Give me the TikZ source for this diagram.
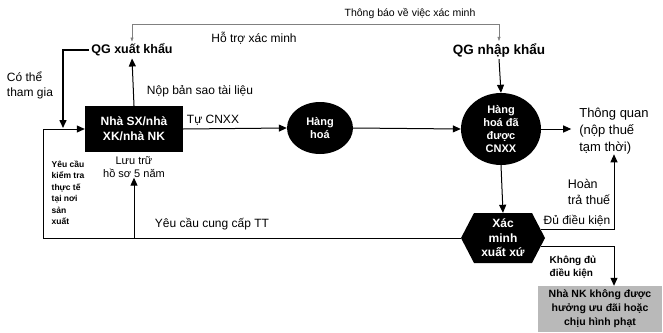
\documentclass[tikz,border=0pt]{standalone}
\usepackage{fontspec}
\setmainfont{Liberation Sans}
\usetikzlibrary{shapes.geometric,shapes.symbols,arrows.meta,calc}
\begin{document}
\begin{tikzpicture}[x=1pt,y=-1pt,
  lbl/.style={font=\fontsize{12}{15}\selectfont, inner sep=0pt},
  blk/.style={fill=black, text=white, font=\bfseries\fontsize{11}{13}\selectfont, align=center, inner sep=0pt},
  arr/.style={-{Triangle[length=8pt,width=7pt]}, line width=1pt},
  thinarr/.style={{Triangle[length=4pt,width=3pt]}-{Triangle[length=4pt,width=3pt]}, line width=0.5pt, draw=gray}
]
\useasboundingbox (0,0) rectangle (663,332);

% nodes
\node[font=\bfseries\fontsize{12.5}{15}\selectfont, inner sep=2pt] (qgxk) at (132,50) {QG xuất khẩu};
\node[font=\bfseries\fontsize{13.5}{15}\selectfont, inner sep=2pt] (qgnk) at (499,50) {QG nhập khẩu};
\node[blk, rectangle, minimum width=98, minimum height=46, font=\bfseries\fontsize{12}{15}\selectfont] (box) at (134,129) {Nhà SX/nhà\\XK/nhà NK};
\node[blk, ellipse, minimum width=66, minimum height=52] (hh) at (320,128) {Hàng\\hoá};
\node[blk, ellipse, minimum width=80, minimum height=72] (hhcn) at (501,129) {Hàng\\hoá đã\\được\\CNXX};
\node[blk, signal, signal to=east and west, signal pointer angle=125, minimum width=84, minimum height=50, font=\bfseries\fontsize{12}{14.5}\selectfont] (hex) at (503,238) {Xác\\minh\\xuất xứ};
\node[lbl, align=left, font=\fontsize{13}{17}\selectfont] (tq) at (614,131) {Thông quan\\(nộp thuế\\tạm thời)};
\node[rectangle, fill=gray!55, minimum width=124, minimum height=46, align=center, inner sep=0pt, font=\bfseries\fontsize{10.5}{14}\selectfont] (nk) at (600,309) {Nhà NK không được\\hưởng ưu đãi hoặc\\chịu hình phạt};

% labels
\node[lbl, font=\fontsize{10.5}{13}\selectfont] (l1) at (410,14) {Thông báo về việc xác minh};
\node[lbl] (l2) at (254,38) {Hỗ trợ xác minh};
\node[lbl, align=left] (l3) at (30,85) {Có thể\\tham gia};
\node[lbl] (l4) at (200,91) {Nộp bản sao tài liệu};
\node[lbl] (l5) at (213,120) {Tự CNXX};
\node[lbl, align=center, font=\fontsize{11}{13}\selectfont] (luu) at (134,167) {Lưu trữ\\hồ sơ 5 năm};
\node[lbl, align=left, font=\bfseries\fontsize{8.5}{11.5}\selectfont] (l6) at (68,193) {Yêu cầu\\kiểm tra\\thực tế\\tại nơi\\sản\\xuất};
\node[lbl] (l7) at (212,224) {Yêu cầu cung cấp TT};
\node[lbl, align=left, font=\fontsize{12.5}{16}\selectfont] (l8) at (589,192) {Hoàn\\trả thuế};
\node[lbl, font=\fontsize{12}{14}\selectfont] (l9) at (577,221) {Đủ điều kiện};
\node[lbl, align=left, font=\bfseries\fontsize{10}{13}\selectfont] (l10) at (573,267) {Không đủ\\điều kiện};

% coordinates
\coordinate (top) at (499,24);
\coordinate (lx) at (43,238);
\coordinate (join) at (63,128);

% connectors
\draw[thinarr] (qgxk.north) |- (top) -- (qgnk.north);
\draw[arr, line width=1.5pt] (qgxk.west) -| (join);
\draw[arr] (box.north) -- (qgxk.south);
\draw[arr] (box.east) -- (hh.west);
\draw[arr] (hh.east) -- (hhcn.west);
\draw[arr] (qgnk.south) -- (hhcn.north);
\draw[arr] (hhcn.east) -- ++(30,0);
\draw[arr] (hhcn.south) -- (hex.north);
\draw[arr] (hex.12) -| (tq.south);
\draw[arr] (hex.-12) -| (nk.north -| tq.south);
\draw[arr] (hex.west) -- (hex.west -| lx) |- (box.west);
\draw[arr] (luu.south |- hex.west) -- (luu.south);
\end{tikzpicture}
\end{document}
